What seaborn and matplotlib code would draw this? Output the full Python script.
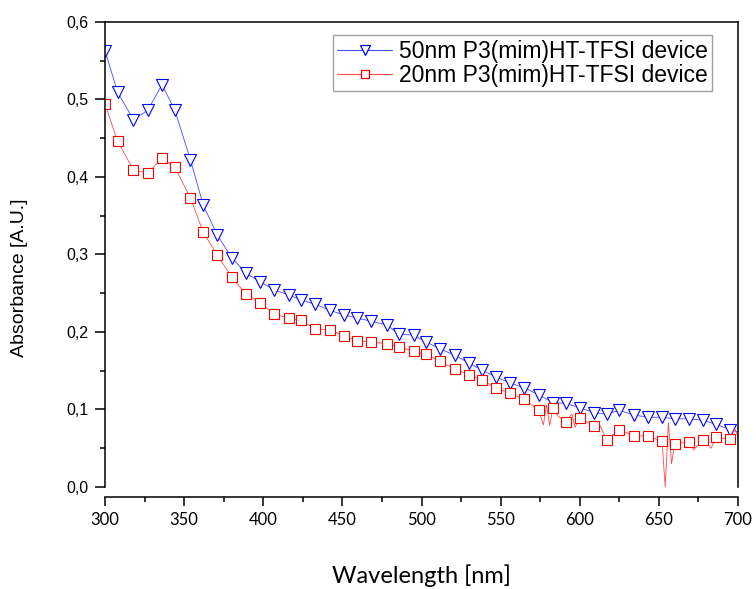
import numpy as np
import pandas as pd
import matplotlib
matplotlib.use("Agg")
import matplotlib.pyplot as plt
import seaborn as sns
from matplotlib.lines import Line2D
from matplotlib.ticker import FixedLocator, MultipleLocator

# ---------------- data ----------------
wavelength = [300, 308, 318, 327, 336, 344, 354, 362, 371, 380, 389, 398, 407, 416,
              424, 433, 442, 451, 459, 468, 478, 486, 495, 503, 512, 521, 530, 538,
              547, 556, 565, 574, 583, 591, 600, 609, 617, 625, 634, 643, 652, 660,
              669, 678, 686, 695]

abs_50nm = [0.563, 0.509, 0.474, 0.486, 0.519, 0.487, 0.422, 0.364, 0.325, 0.296,
            0.276, 0.265, 0.254, 0.248, 0.241, 0.236, 0.228, 0.222, 0.218, 0.214,
            0.209, 0.197, 0.196, 0.187, 0.178, 0.170, 0.160, 0.151, 0.142, 0.134,
            0.128, 0.119, 0.109, 0.108, 0.102, 0.096, 0.094, 0.099, 0.093, 0.090,
            0.090, 0.088, 0.088, 0.086, 0.081, 0.074]

abs_20nm = [0.494, 0.446, 0.409, 0.405, 0.424, 0.413, 0.373, 0.329, 0.299, 0.271,
            0.249, 0.238, 0.223, 0.218, 0.215, 0.204, 0.203, 0.195, 0.189, 0.187,
            0.185, 0.181, 0.175, 0.171, 0.162, 0.152, 0.145, 0.138, 0.128, 0.121,
            0.113, 0.099, 0.102, 0.084, 0.089, 0.079, 0.061, 0.074, 0.066, 0.066,
            0.059, 0.056, 0.058, 0.061, 0.064, 0.062]

# extra (unmarked) points of the noisy traces
extra_wl_50nm = [700]
extra_abs_50nm = [0.071]
extra_wl_20nm = [577, 579, 581, 586, 595, 597, 612, 654, 656, 658, 672, 683, 698, 700]
extra_abs_20nm = [0.080, 0.106, 0.079, 0.092, 0.094, 0.077, 0.083, 0.000, 0.083,
                  0.030, 0.048, 0.050, 0.075, 0.064]

x_ticks = [300, 350, 400, 450, 500, 550, 600, 650, 700]
y_ticks = [0.0, 0.1, 0.2, 0.3, 0.4, 0.5, 0.6]
y_tick_labels = ["0,0", "0,1", "0,2", "0,3", "0,4", "0,5", "0,6"]
series_labels = ["50nm P3(mim)HT-TFSI device", "20nm P3(mim)HT-TFSI device"]
x_title = "Wavelength [nm]"
y_title = "Absorbance [A.U.]"

# ---------------- style ----------------
sns.set_theme(style="ticks", rc={"axes.edgecolor": "black", "xtick.color": "black",
                                 "ytick.color": "black", "axes.labelcolor": "black",
                                 "text.color": "black"})
plt.rcParams["font.family"] = ["Liberation Sans", "DejaVu Sans"]

BLUE = "#0000ff"
RED = "#ff0000"
BLUE_LINE = "#4a4aff"
RED_LINE = "#ff4a4a"


def trace(wl, ab, ewl, eab):
    df = pd.DataFrame({"wl": list(wl) + list(ewl), "ab": list(ab) + list(eab),
                       "marker": [True] * len(wl) + [False] * len(ewl)})
    df = df.sort_values("wl").reset_index(drop=True)
    return df, list(np.flatnonzero(df["marker"].values))


fig = plt.figure(figsize=(7.56, 5.89), dpi=100)
ax = fig.add_axes([0.1389, 0.1732, 0.8373, 0.7895])

df_b, idx_b = trace(wavelength, abs_50nm, extra_wl_50nm, extra_abs_50nm)
df_r, idx_r = trace(wavelength, abs_20nm, extra_wl_20nm, extra_abs_20nm)

sns.lineplot(data=df_b, x="wl", y="ab", ax=ax, estimator=None, sort=False,
             color=BLUE_LINE, linewidth=0.6, marker="v", markevery=idx_b,
             markersize=8.8, markerfacecolor="white", markeredgecolor=BLUE,
             markeredgewidth=0.8)
sns.lineplot(data=df_r, x="wl", y="ab", ax=ax, estimator=None, sort=False,
             color=RED_LINE, linewidth=0.6, marker="s", markevery=idx_r,
             markersize=6.7, markerfacecolor="white", markeredgecolor=RED,
             markeredgewidth=0.8)

ax.set_xlim(300, 700)
ax.set_ylim(0, 0.6)

for s in ax.spines.values():
    s.set_visible(True)
    s.set_linewidth(1.1)
    s.set_color("black")
ax.spines["bottom"].set_position(("outward", 7.5))

ax.xaxis.set_major_locator(FixedLocator(x_ticks))
ax.xaxis.set_minor_locator(MultipleLocator(25))
ax.yaxis.set_major_locator(FixedLocator(y_ticks))
ax.yaxis.set_minor_locator(MultipleLocator(0.05))
ax.set_yticklabels(y_tick_labels)

ax.tick_params(axis="both", which="both", direction="out", width=1.1,
               top=False, right=False, bottom=True, left=True)
ax.tick_params(axis="y", which="major", length=7, pad=5, labelsize=11.5)
ax.tick_params(axis="y", which="minor", length=3.5)
ax.tick_params(axis="x", which="major", length=6.5, pad=4, labelsize=12)
ax.tick_params(axis="x", which="minor", length=3.5)
for lab in ax.get_xticklabels():
    lab.set_fontfamily(["Lato", "DejaVu Sans"])

ax.set_xlabel(x_title, fontsize=17, fontfamily=["Lato", "DejaVu Sans"])
ax.set_ylabel(y_title, fontsize=14)
ax.xaxis.set_label_coords(0.5, -0.166)
ax.yaxis.set_label_coords(-0.121, 0.45)

handles = [
    Line2D([], [], color=BLUE_LINE, linewidth=0.8, marker="v", markersize=7.5,
           markerfacecolor="white", markeredgecolor=BLUE, markeredgewidth=0.9),
    Line2D([], [], color=RED_LINE, linewidth=0.8, marker="s", markersize=6,
           markerfacecolor="white", markeredgecolor=RED, markeredgewidth=0.9),
]
leg = ax.legend(handles, series_labels, loc="upper right",
                bbox_to_anchor=(0.959, 0.972), borderaxespad=0, fontsize=16.5,
                frameon=True, fancybox=False, framealpha=1, edgecolor="#a0a0a0",
                borderpad=0.2, labelspacing=0.05, handlelength=2.4,
                handletextpad=0.28, numpoints=1)
leg.get_frame().set_linewidth(1.0)

fig.savefig("out.png", dpi=100, facecolor="white")
